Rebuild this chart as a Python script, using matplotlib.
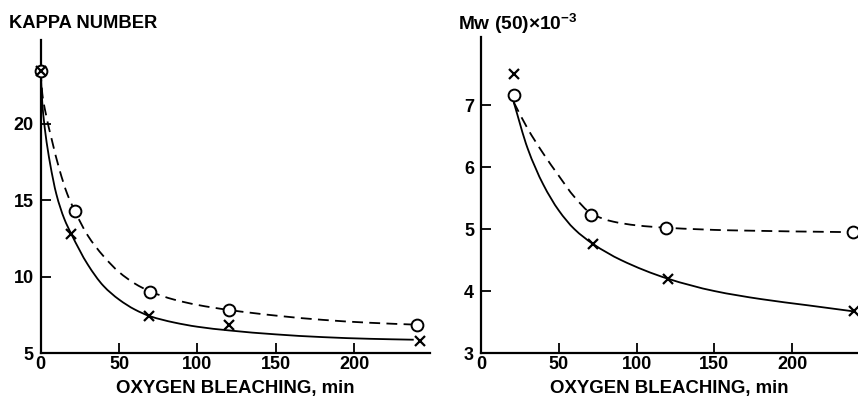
import matplotlib
matplotlib.use("Agg")
import matplotlib.pyplot as plt
from matplotlib.path import Path
from matplotlib.patches import PathPatch

plt.rcParams['font.family'] = ['Liberation Sans', 'DejaVu Sans']
plt.rcParams['mathtext.fontset'] = 'custom'
plt.rcParams['mathtext.rm'] = 'Liberation Sans:bold'
plt.rcParams['mathtext.it'] = 'Liberation Sans:bold'
plt.rcParams['mathtext.bf'] = 'Liberation Sans:bold'

# ---- Left panel: Kappa number ----
kappa_circle_x = [0, 22, 70, 120, 240]
kappa_circle_y = [23.5, 14.3, 9.0, 7.8, 6.85]
kappa_cross_x = [0, 19.5, 69, 120, 242]
kappa_cross_y = [23.5, 12.8, 7.4, 6.85, 5.8]

# fitted curves as drawn in the figure
kappa_dash_x = [0, 1, 3, 7, 12, 17, 22, 30, 40, 50, 60, 70, 85, 100, 120, 150, 180, 210, 241]
kappa_dash_y = [23.5, 22.0, 20.8, 19.0, 17.0, 15.4, 14.25, 12.7, 11.35, 10.3, 9.55, 9.02, 8.5,
                8.15, 7.82, 7.45, 7.17, 6.98, 6.85]
kappa_solid_x = [0, 1, 3, 6, 10, 15, 19.5, 30, 40, 50, 60, 70, 85, 100, 120, 150, 180, 210, 238]
kappa_solid_y = [23.5, 21.4, 19.4, 17.4, 15.4, 13.8, 12.8, 10.8, 9.4, 8.5, 7.85, 7.4, 7.0,
                 6.72, 6.48, 6.22, 6.04, 5.93, 5.87]

kappa_xticks = [0, 50, 100, 150, 200]
kappa_yticks = [5, 10, 15, 20]

# ---- Right panel: Mw(50) x 10^-3 ----
mw_circle_x = [21, 71, 119, 239]
mw_circle_y = [7.16, 5.22, 5.01, 4.95]
mw_cross_x = [21, 72, 120, 240]
mw_cross_y = [7.5, 4.76, 4.2, 3.67]

mw_dash_x = [21, 30, 40, 50, 60, 71, 85, 100, 120, 160, 239]
mw_dash_y = [7.05, 6.62, 6.22, 5.86, 5.52, 5.25, 5.12, 5.06, 5.02, 4.98, 4.95]
mw_solid_x = [21, 30, 40, 50, 60, 72, 90, 120, 150, 180, 210, 240]
mw_solid_y = [7.05, 6.3, 5.72, 5.3, 5.0, 4.76, 4.5, 4.2, 4.0, 3.87, 3.77, 3.67]

mw_xticks = [0, 50, 100, 150, 200]
mw_yticks = [3, 4, 5, 6, 7]

W, H = 858, 398
fig = plt.figure(figsize=(W / 100, H / 100), dpi=100)

lw = 1.3
dash = (0, (6, 3.5))
FS_TICK = 13
FS_LAB = 13.4


def smooth_path(xs, ys):
    """Monotone cubic Bezier path through the read curve points."""
    n = len(xs)
    h = [xs[i + 1] - xs[i] for i in range(n - 1)]
    d = [(ys[i + 1] - ys[i]) / h[i] for i in range(n - 1)]
    m = [0.0] * n
    m[0] = d[0]
    m[-1] = d[-1]
    for k in range(1, n - 1):
        if d[k - 1] * d[k] <= 0:
            m[k] = 0.0
        else:
            w1 = 2 * h[k] + h[k - 1]
            w2 = h[k] + 2 * h[k - 1]
            m[k] = (w1 + w2) / (w1 / d[k - 1] + w2 / d[k])
    verts = [(xs[0], ys[0])]
    codes = [Path.MOVETO]
    for k in range(n - 1):
        verts += [(xs[k] + h[k] / 3, ys[k] + m[k] * h[k] / 3),
                  (xs[k + 1] - h[k] / 3, ys[k + 1] - m[k + 1] * h[k] / 3),
                  (xs[k + 1], ys[k + 1])]
        codes += [Path.CURVE4] * 3
    return Path(verts, codes)


def draw_curve(ax, xs, ys, ls):
    ax.add_patch(PathPatch(smooth_path(xs, ys), fill=False, edgecolor='black',
                           lw=lw, linestyle=ls, capstyle='butt'))


def style(ax, xticks, yticks):
    for s in ['top', 'right']:
        ax.spines[s].set_visible(False)
    for s in ['left', 'bottom']:
        ax.spines[s].set_linewidth(1.6)
    ax.set_xticks(xticks)
    ax.set_yticks(yticks)
    ax.tick_params(direction='in', length=7, width=1.3, labelsize=FS_TICK)
    ax.tick_params(axis='x', pad=2)
    ax.tick_params(axis='y', pad=5)
    for lab in ax.get_xticklabels() + ax.get_yticklabels():
        lab.set_fontweight('bold')
    ax.set_xlabel('OXYGEN BLEACHING, min', fontsize=FS_LAB, fontweight='bold', labelpad=5)


# left axes
axL = fig.add_axes([40.7 / W, 45 / H, 389.3 / W, 313 / H])
draw_curve(axL, kappa_dash_x, kappa_dash_y, dash)
draw_curve(axL, kappa_solid_x, kappa_solid_y, '-')
axL.plot(kappa_circle_x, kappa_circle_y, 'o', ms=8.5, mfc='white', mec='black', mew=1.4, clip_on=False, zorder=3)
axL.plot(kappa_cross_x, kappa_cross_y, 'x', ms=7, mec='black', mew=1.6, clip_on=False, zorder=4)
axL.set_xlim(0, 248.4)
axL.set_ylim(5, 25.5)
style(axL, kappa_xticks, kappa_yticks)

# right axes
axR = fig.add_axes([481 / W, 45 / H, 377 / W, 316 / H])
draw_curve(axR, mw_dash_x, mw_dash_y, dash)
draw_curve(axR, mw_solid_x, mw_solid_y, '-')
axR.plot(mw_circle_x, mw_circle_y, 'o', ms=8.5, mfc='white', mec='black', mew=1.4, clip_on=False, zorder=3)
axR.plot(mw_cross_x, mw_cross_y, 'x', ms=7, mec='black', mew=1.6, clip_on=False, zorder=4)
axR.set_xlim(0, 242.3)
axR.set_ylim(3, 8.1)
style(axR, mw_xticks, mw_yticks)

fig.text(9 / W, 1 - 24 / H, 'KAPPA NUMBER', fontsize=13.2, fontweight='bold', va='center', ha='left')
fig.text(458 / W, 1 - 24 / H, r'Mw (50)$\times$10$^{-3}$', fontsize=13.8, fontweight='bold', va='center', ha='left')

fig.savefig('out.png', dpi=100)
